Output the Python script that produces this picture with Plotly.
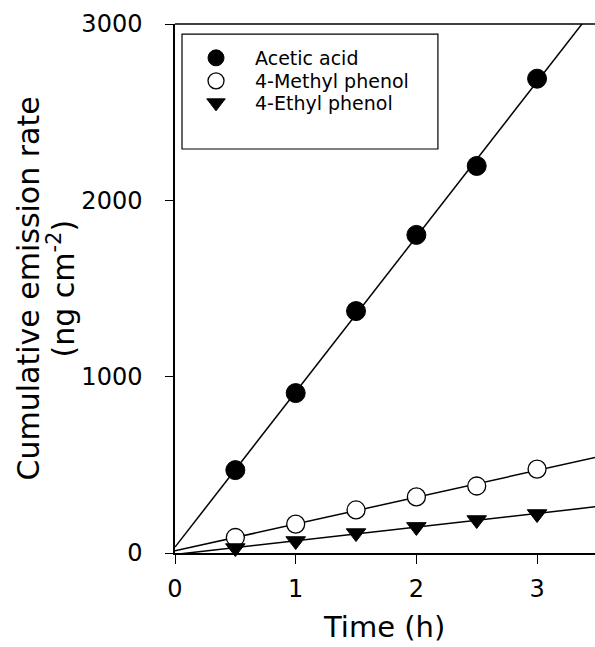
import numpy as np
import plotly.graph_objects as go

# ---- data ----
time_h = [0.5, 1.0, 1.5, 2.0, 2.5, 3.0]
acetic_acid = [470, 907, 1372, 1804, 2195, 2690]
methyl_phenol = [88, 164, 244, 318, 380, 476]
ethyl_phenol = [28, 68, 113, 148, 187, 221]
series_names = ["Acetic acid", "4-Methyl phenol", "4-Ethyl phenol"]
x_ticks = [0, 1, 2, 3]
y_ticks = [0, 1000, 2000, 3000]

FONT = "DejaVu Sans"
X_MAX = 3.48
fig = go.Figure()

t_line = np.array([0.0, 3.6])
for vals in (acetic_acid, methyl_phenol, ethyl_phenol):
    slope, icpt = np.polyfit(time_h, vals, 1)
    fig.add_trace(go.Scatter(x=t_line, y=icpt + slope * t_line, mode="lines",
                             line=dict(color="black", width=1.5),
                             showlegend=False, hoverinfo="skip"))

styles = [
    dict(symbol="circle", size=19, color="black", line=dict(color="black", width=1)),
    dict(symbol="circle", size=18, color="white", line=dict(color="black", width=1.3)),
    dict(symbol="triangle-down", size=17, color="black", line=dict(color="black", width=1)),
]
legend_ids = ["legend", "legend2", "legend3"]
for name, vals, st, lg in zip(series_names, (acetic_acid, methyl_phenol, ethyl_phenol),
                              styles, legend_ids):
    fig.add_trace(go.Scatter(x=time_h, y=vals, mode="markers", name=name,
                             marker=st, cliponaxis=False, legend=lg))

row_y = [(553 - 58) / 529, (553 - 81) / 529, (553 - 103) / 529]
leg_common = dict(x=0.0048, xanchor="left", yanchor="middle",
                  bgcolor="rgba(0,0,0,0)", borderwidth=0,
                  font=dict(family=FONT, size=19, color="black"), itemwidth=68)

fig.update_layout(
    width=595, height=647,
    margin=dict(l=175, r=0, t=24, b=94),
    paper_bgcolor="white", plot_bgcolor="white",
    font=dict(family=FONT, color="black"),
    showlegend=True,
    legend=dict(y=row_y[0], **leg_common),
    legend2=dict(y=row_y[1], **leg_common),
    legend3=dict(y=row_y[2], **leg_common),
    xaxis=dict(range=[0, X_MAX], tickvals=x_ticks, ticks="outside", ticklen=9,
               tickwidth=1.2, tickcolor="black", showline=True, linecolor="black",
               linewidth=1.5, showgrid=False, zeroline=False, ticklabelstandoff=4,
               tickfont=dict(family=FONT, size=24, color="black")),
    yaxis=dict(range=[0, 3000], tickvals=y_ticks, ticks="outside", ticklen=8,
               tickwidth=1.2, tickcolor="black", showline=True, linecolor="black",
               linewidth=1.5, showgrid=False, zeroline=False, ticklabelstandoff=18,
               tickfont=dict(family=FONT, size=24, color="black")),
    shapes=[
        dict(type="line", xref="paper", yref="paper", x0=0, x1=1, y0=1, y1=1,
             line=dict(color="black", width=1.5)),
        dict(type="rect", xref="paper", yref="paper", x0=0.0167, x1=0.626,
             y0=0.7637, y1=0.981, line=dict(color="black", width=1.2)),
    ],
    annotations=[
        dict(text="Time (h)", xref="paper", yref="paper", x=0.4976,
             y=(553 - 627) / 529, xanchor="center", yanchor="middle",
             showarrow=False, font=dict(family=FONT, size=29, color="black")),
        dict(text="Cumulative emission rate", xref="paper", yref="paper",
             x=(28 - 175) / 420, y=0.5, textangle=-90, xanchor="center",
             yanchor="middle", showarrow=False,
             font=dict(family=FONT, size=30, color="black")),
        dict(text="(ng cm<sup>-2</sup>)", xref="paper", yref="paper",
             x=(62 - 175) / 420, y=0.5, textangle=-90, xanchor="center",
             yanchor="middle", showarrow=False,
             font=dict(family=FONT, size=30, color="black")),
    ],
)

fig.write_html("out.html", config=dict(displayModeBar=False),
               post_script="document.body.style.margin='0';"
                           "document.body.style.overflow='hidden';")
